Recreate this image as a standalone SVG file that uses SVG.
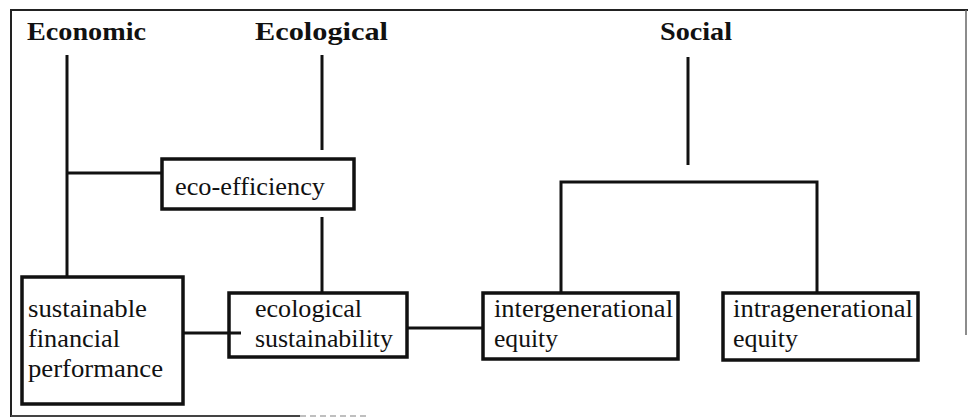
<svg xmlns="http://www.w3.org/2000/svg" width="968" height="418" viewBox="0 0 968 418">
<style>
.hd{font-family:"Liberation Serif","Times New Roman",serif;font-weight:bold;font-size:25px;fill:#111}
.tx{font-family:"Liberation Serif","Times New Roman",serif;font-weight:400;font-size:25px;fill:#111}
.box{fill:#fff;stroke:#111;stroke-width:3.5}
.ln{stroke:#111;stroke-width:3;fill:none}
.fr{stroke:#222;stroke-width:2;fill:none}
</style>
<rect width="968" height="418" fill="#fff"/>
<g id="frame">
<path class="fr" d="M11,417 L11,10 L968,10"/>
<path d="M966,10 L966,335" stroke="#666" stroke-width="1.5"/>
<path d="M11,416 L300,416" stroke="#444" stroke-width="2"/>
<path d="M300,416 L370,416" stroke="#aaa" stroke-width="1.5" stroke-dasharray="6 4"/>
</g>
<g id="connectors">
<path class="ln" d="M67,55 L67,277"/>
<path class="ln" d="M67,173 L162,173"/>
<path class="ln" d="M322,55 L322,150"/>
<path class="ln" d="M322,217 L322,293"/>
<path class="ln" d="M178,333 L241,333" stroke-width="3.5"/>
<path class="ln" d="M407,328 L483,328"/>
<path class="ln" d="M688,57 L688,165"/>
<path class="ln" d="M561,293 L561,182 L817,182 L817,293"/>
</g>
<g id="economic"><text class="hd" x="27" y="40" textLength="119" lengthAdjust="spacingAndGlyphs">Economic</text></g>
<g id="ecological"><text class="hd" x="255" y="40" textLength="133" lengthAdjust="spacingAndGlyphs">Ecological</text></g>
<g id="social"><text class="hd" x="660" y="40" textLength="72" lengthAdjust="spacingAndGlyphs">Social</text></g>
<g id="eco-efficiency">
<rect class="box" x="162" y="159" width="192" height="50"/>
<text class="tx" x="175" y="195" textLength="150" lengthAdjust="spacingAndGlyphs">eco-efficiency</text>
</g>
<g id="sustainable-financial-performance">
<rect class="box" x="22" y="277" width="161" height="127"/>
<text class="tx" x="28" y="317" textLength="119" lengthAdjust="spacingAndGlyphs">sustainable</text>
<text class="tx" x="28" y="347" textLength="92" lengthAdjust="spacingAndGlyphs">financial</text>
<text class="tx" x="28" y="377" textLength="135" lengthAdjust="spacingAndGlyphs">performance</text>
</g>
<g id="ecological-sustainability">
<rect class="box" x="229" y="293" width="178" height="64"/>
<path class="ln" d="M229,333 L241,333" stroke-width="3.5"/>
<text class="tx" x="255" y="317" textLength="107" lengthAdjust="spacingAndGlyphs">ecological</text>
<text class="tx" x="255" y="347" textLength="138" lengthAdjust="spacingAndGlyphs">sustainability</text>
</g>
<g id="intergenerational-equity">
<rect class="box" x="483" y="293" width="195" height="66"/>
<text class="tx" x="494" y="317" textLength="179" lengthAdjust="spacingAndGlyphs">intergenerational</text>
<text class="tx" x="494" y="347" textLength="64" lengthAdjust="spacingAndGlyphs">equity</text>
</g>
<g id="intragenerational-equity">
<rect class="box" x="723" y="293" width="195" height="67"/>
<text class="tx" x="733" y="317" textLength="180" lengthAdjust="spacingAndGlyphs">intragenerational</text>
<text class="tx" x="733" y="347" textLength="65" lengthAdjust="spacingAndGlyphs">equity</text>
</g>
</svg>
